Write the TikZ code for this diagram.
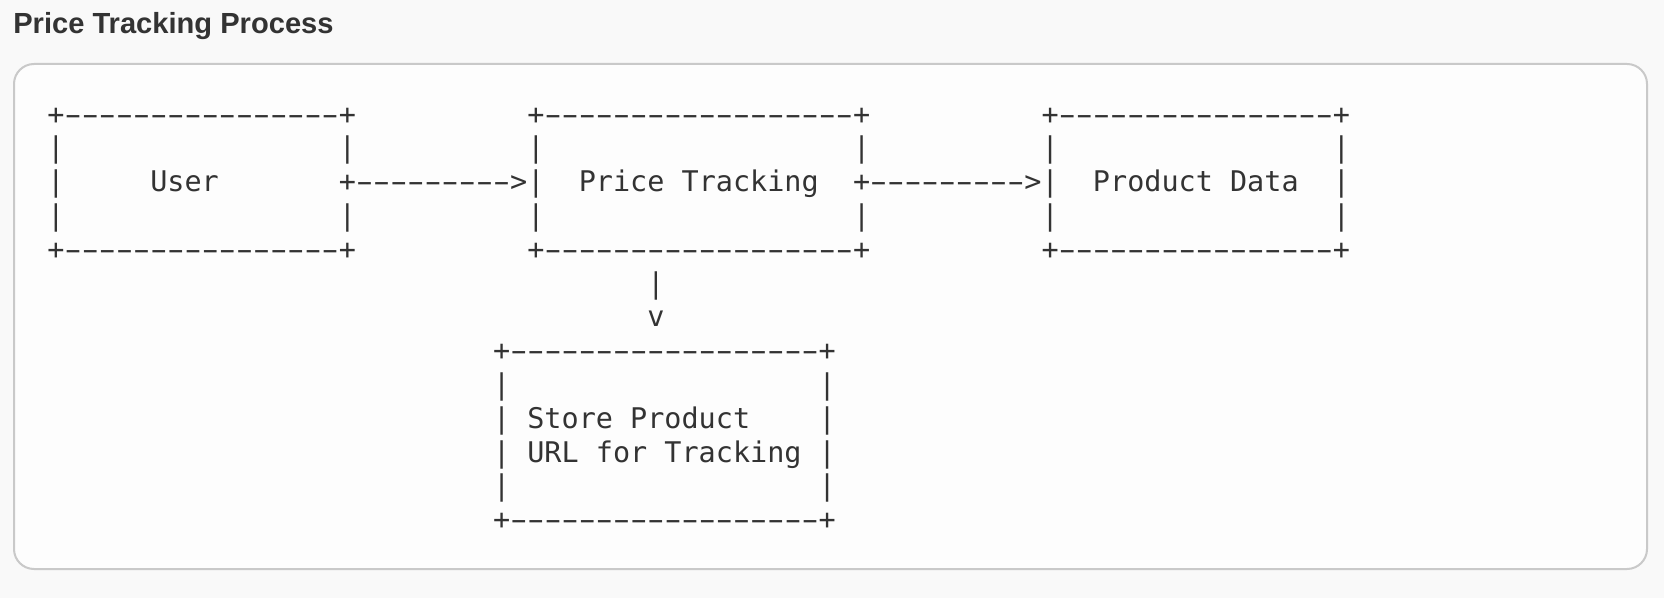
\documentclass[tikz,border=0pt]{standalone}
\usepackage{fontspec}
\newfontfamily\asciifont{DejaVu Sans Mono}[Ligatures=TeXOff]
\newfontfamily\titlefont{Liberation Sans}
\definecolor{ink}{HTML}{333333}
\definecolor{pagebg}{HTML}{F9F9F9}
\definecolor{panelbg}{HTML}{FDFDFD}
\definecolor{panelline}{HTML}{C9C9C9}
\tikzset{
  asciitext/.style={anchor=base west, inner sep=0pt, outer sep=0pt,
    font=\asciifont\fontsize{14.235pt}{17pt}\selectfont, text=ink},
  titletext/.style={anchor=base west, inner sep=0pt, outer sep=0pt,
    font=\titlefont\bfseries\fontsize{14.55pt}{17pt}\selectfont, text=ink},
  panel/.style={draw=panelline, line width=1pt, fill=panelbg, rounded corners=10pt}
}
% one wide hyphen per monospace cell
\newcommand\hy{\makebox[0.602em][c]{\scalebox{1.75}[1]{-}}}
\newcommand\dd[1]{\foreach \k in {1,...,#1}{\hy}}
\newcommand\ac[4]{\node[asciitext] (#1) at ({47.43+17.14*#2},{124.1+33.8*#3}) {#4};}
\begin{document}
\begin{tikzpicture}[x=0.5pt,y=-0.5pt]
\fill[pagebg] (0,0) rectangle (1664,598);
\useasboundingbox (0,0) rectangle (1664,598);
\node[titletext] (title) at (13.3,33.5) {Price Tracking Process};
\draw[panel] (14,64) rectangle (1647,569);
% row 0
\ac{uT}{0}{0}{+\dd{16}+}
\ac{pT}{28}{0}{+\dd{18}+}
\ac{dT}{58}{0}{+\dd{16}+}
% row 1
\ac{uL1}{0}{1}{|}
\ac{uR1}{17}{1}{|}
\ac{pL1}{28}{1}{|}
\ac{pR1}{47}{1}{|}
\ac{dL1}{58}{1}{|}
\ac{dR1}{75}{1}{|}
% row 2
\ac{uL2}{0}{2}{|}
\ac{user}{6}{2}{User}
\ac{arrA}{17}{2}{+\dd{9}>|}
\ac{price}{31}{2}{Price Tracking}
\ac{arrB}{47}{2}{+\dd{9}>|}
\ac{data}{61}{2}{Product Data}
\ac{dR2}{75}{2}{|}
% row 3
\ac{uL3}{0}{3}{|}
\ac{uR3}{17}{3}{|}
\ac{pL3}{28}{3}{|}
\ac{pR3}{47}{3}{|}
\ac{dL3}{58}{3}{|}
\ac{dR3}{75}{3}{|}
% row 4
\ac{uB}{0}{4}{+\dd{16}+}
\ac{pB}{28}{4}{+\dd{18}+}
\ac{dB}{58}{4}{+\dd{16}+}
% down arrow
\ac{downBar}{35}{5}{|}
\ac{downHead}{35}{6}{v}
% store box
\ac{sT}{26}{7}{+\dd{18}+}
\ac{sL8}{26}{8}{|}
\ac{sR8}{45}{8}{|}
\ac{sL9}{26}{9}{|}
\ac{store1}{28}{9}{Store Product}
\ac{sR9}{45}{9}{|}
\ac{sL10}{26}{10}{|}
\ac{store2}{28}{10}{URL for Tracking}
\ac{sR10}{45}{10}{|}
\ac{sL11}{26}{11}{|}
\ac{sR11}{45}{11}{|}
\ac{sB}{26}{12}{+\dd{18}+}
\end{tikzpicture}
\end{document}
